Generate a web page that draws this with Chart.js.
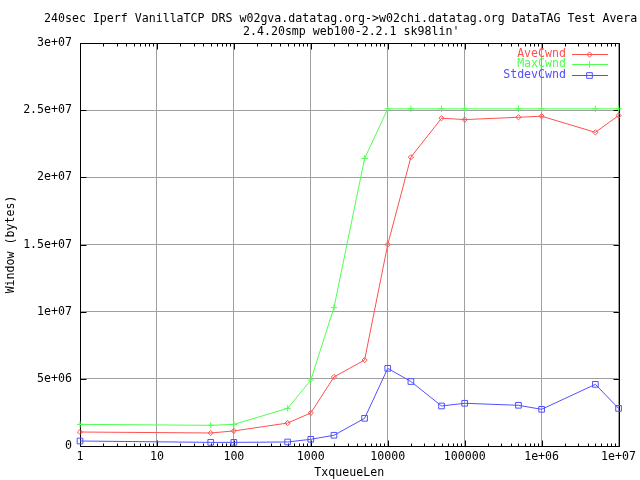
<!DOCTYPE html>
<html><head><meta charset="utf-8">
<script src="https://cdn.jsdelivr.net/npm/chart.js@4.4.0/dist/chart.umd.min.js"></script>
<style>html,body{margin:0;padding:0;background:#fff}</style>
</head><body>
<canvas id="c" width="640" height="480" style="width:640px;height:480px;display:block"></canvas>
<script>
const titleLines = [
  "240sec Iperf VanillaTCP DRS w02gva.datatag.org->w02chi.datatag.org DataTAG Test Avera",
  "2.4.20smp web100-2.2.1 sk98lin'"
];
const txqueueLen = [1, 50, 100, 500, 1000, 2000, 5000, 10000, 20000, 50000, 100000, 500000, 1000000, 5000000, 10000000];
const aveCwnd   = [1.04e6, 0.97e6, 1.12e6, 1.71e6, 2.46e6, 5.14e6, 6.4e6, 15.0e6, 21.5e6, 24.4e6, 24.3e6, 24.47e6, 24.55e6, 23.35e6, 24.6e6];
const maxCwnd   = [1.61e6, 1.54e6, 1.61e6, 2.8e6, 4.91e6, 10.3e6, 21.4e6, 25.1e6, 25.1e6, 25.1e6, 25.1e6, 25.1e6, 25.1e6, 25.1e6, 25.1e6];
const stdevCwnd = [0.37e6, 0.27e6, 0.27e6, 0.3e6, 0.5e6, 0.8e6, 2.06e6, 5.78e6, 4.8e6, 2.98e6, 3.18e6, 3.03e6, 2.73e6, 4.59e6, 2.8e6];
const seriesNames = ["AveCwnd", "MaxCwnd", "StdevCwnd"];
const xTickValues = [1, 10, 100, 1000, 10000, 100000, 1000000, 10000000];
const xTickLabels = ["1", "10", "100", "1000", "10000", "100000", "1e+06", "1e+07"];
const yTickValues = [0, 5e6, 1e7, 1.5e7, 2e7, 2.5e7, 3e7];
const yTickLabels = ["0", "5e+06", "1e+07", "1.5e+07", "2e+07", "2.5e+07", "3e+07"];
const xAxisTitle = "TxqueueLen";
const yAxisTitle = "Window (bytes)";

const FONT = {family: "'DejaVu Sans Mono', monospace", size: 11.6};
const FONTSTR = "11.6px 'DejaVu Sans Mono', monospace";
const RED = "rgb(255,80,80)", GREEN = "rgb(80,255,80)", BLUE = "rgb(80,80,255)";

function pts(ys) { return txqueueLen.map((x, i) => ({x: x, y: ys[i]})); }

const styles = [
  {color: RED, pointStyle: 'rectRot', radius: 2.6},
  {color: GREEN, pointStyle: 'cross', radius: 3.2},
  {color: BLUE, pointStyle: 'rect', radius: 4}
];
const seriesData = [aveCwnd, maxCwnd, stdevCwnd];

const datasets = seriesData.map((d, i) => ({
  label: seriesNames[i],
  data: pts(d),
  borderColor: styles[i].color,
  backgroundColor: 'rgba(0,0,0,0)',
  pointBorderColor: styles[i].color,
  pointBackgroundColor: 'rgba(0,0,0,0)',
  pointStyle: styles[i].pointStyle,
  pointRadius: styles[i].radius,
  pointBorderWidth: 1,
  borderWidth: 1,
  tension: 0,
  clip: false
}));

const frame = {
  id: 'gnuframe',
  beforeDatasetsDraw(chart) {
    const ctx = chart.ctx, a = chart.chartArea;
    const xs = chart.scales.x, ys = chart.scales.y;
    ctx.save();
    ctx.strokeStyle = '#000';
    ctx.lineWidth = 1;
    ctx.beginPath();
    const L = Math.round(a.left) + 0.5, R = Math.round(a.right) + 0.5;
    const T = Math.round(a.top) + 0.5, B = Math.round(a.bottom) + 0.5;
    ctx.rect(L, T, R - L, B - T);
    yTickValues.forEach(v => {
      const y = Math.round(ys.getPixelForValue(v)) + 0.5;
      ctx.moveTo(L, y); ctx.lineTo(L + 6, y);
      ctx.moveTo(R, y); ctx.lineTo(R - 6, y);
    });
    for (let e = 0; e < 7; e++) {
      for (let m = 1; m <= 9; m++) {
        const v = m * Math.pow(10, e);
        const x = Math.round(xs.getPixelForValue(v)) + 0.5;
        const len = m === 1 ? 6 : 3;
        ctx.moveTo(x, B); ctx.lineTo(x, B - len);
        ctx.moveTo(x, T); ctx.lineTo(x, T + len);
      }
    }
    const xe = Math.round(xs.getPixelForValue(1e7)) + 0.5;
    ctx.moveTo(xe, B); ctx.lineTo(xe, B - 6);
    ctx.moveTo(xe, T); ctx.lineTo(xe, T + 6);
    ctx.stroke();
    ctx.restore();
  },
  afterDraw(chart) {
    const ctx = chart.ctx;
    ctx.save();
    ctx.font = FONTSTR;
    ctx.fillStyle = '#000';
    ctx.textBaseline = 'alphabetic';
    ctx.textAlign = 'left';
    ctx.fillText(titleLines[0], 44, 22);
    ctx.fillText(titleLines[1], 243, 35);
    const rows = [54, 64, 75];
    seriesNames.forEach((n, i) => {
      const y = rows[i];
      ctx.fillStyle = styles[i].color;
      ctx.textAlign = 'right';
      ctx.textBaseline = 'middle';
      ctx.fillText(n, 566, y);
      ctx.fillRect(572, y, 36, 1);
      ctx.strokeStyle = styles[i].color;
      ctx.lineWidth = 1;
      ctx.fillStyle = 'rgba(0,0,0,0)';
      Chart.helpers.drawPoint(ctx, {pointStyle: styles[i].pointStyle, radius: styles[i].radius, borderWidth: 1, rotation: 0}, 589.5, y + 0.5);
    });
    ctx.restore();
  }
};

new Chart(document.getElementById('c'), {
  type: 'line',
  data: {datasets: datasets},
  plugins: [frame],
  options: {
    responsive: false,
    animation: false,
    devicePixelRatio: 1,
    layout: {padding: {top: 43, right: 20, left: 0, bottom: 0}},
    plugins: {legend: {display: false}, title: {display: false}, tooltip: {enabled: false}},
    scales: {
      x: {
        type: 'logarithmic', min: 1, max: 1e7,
        afterBuildTicks: s => { s.ticks = xTickValues.map(v => ({value: v})); },
        afterFit: s => { s.height = 34; },
        ticks: {
          autoSkip: false, maxRotation: 0, minRotation: 0, padding: 4, color: '#000', font: FONT,
          callback: v => xTickLabels[xTickValues.indexOf(v)]
        },
        grid: {color: '#a0a0a0', drawTicks: false, lineWidth: 1},
        border: {display: false},
        title: {display: true, text: xAxisTitle, color: '#000', font: FONT, padding: {top: 0, bottom: 0}}
      },
      y: {
        type: 'linear', min: 0, max: 3e7,
        afterBuildTicks: s => { s.ticks = yTickValues.map(v => ({value: v})); },
        afterFit: s => { s.width = 80; },
        ticks: {
          padding: 8, color: '#000', font: FONT,
          callback: v => yTickLabels[yTickValues.indexOf(v)]
        },
        grid: {color: '#a0a0a0', drawTicks: false, lineWidth: 1},
        border: {display: false},
        title: {display: true, text: yAxisTitle, color: '#000', font: FONT, padding: {top: 4, bottom: 0}}
      }
    }
  }
});
</script>
</body></html>
